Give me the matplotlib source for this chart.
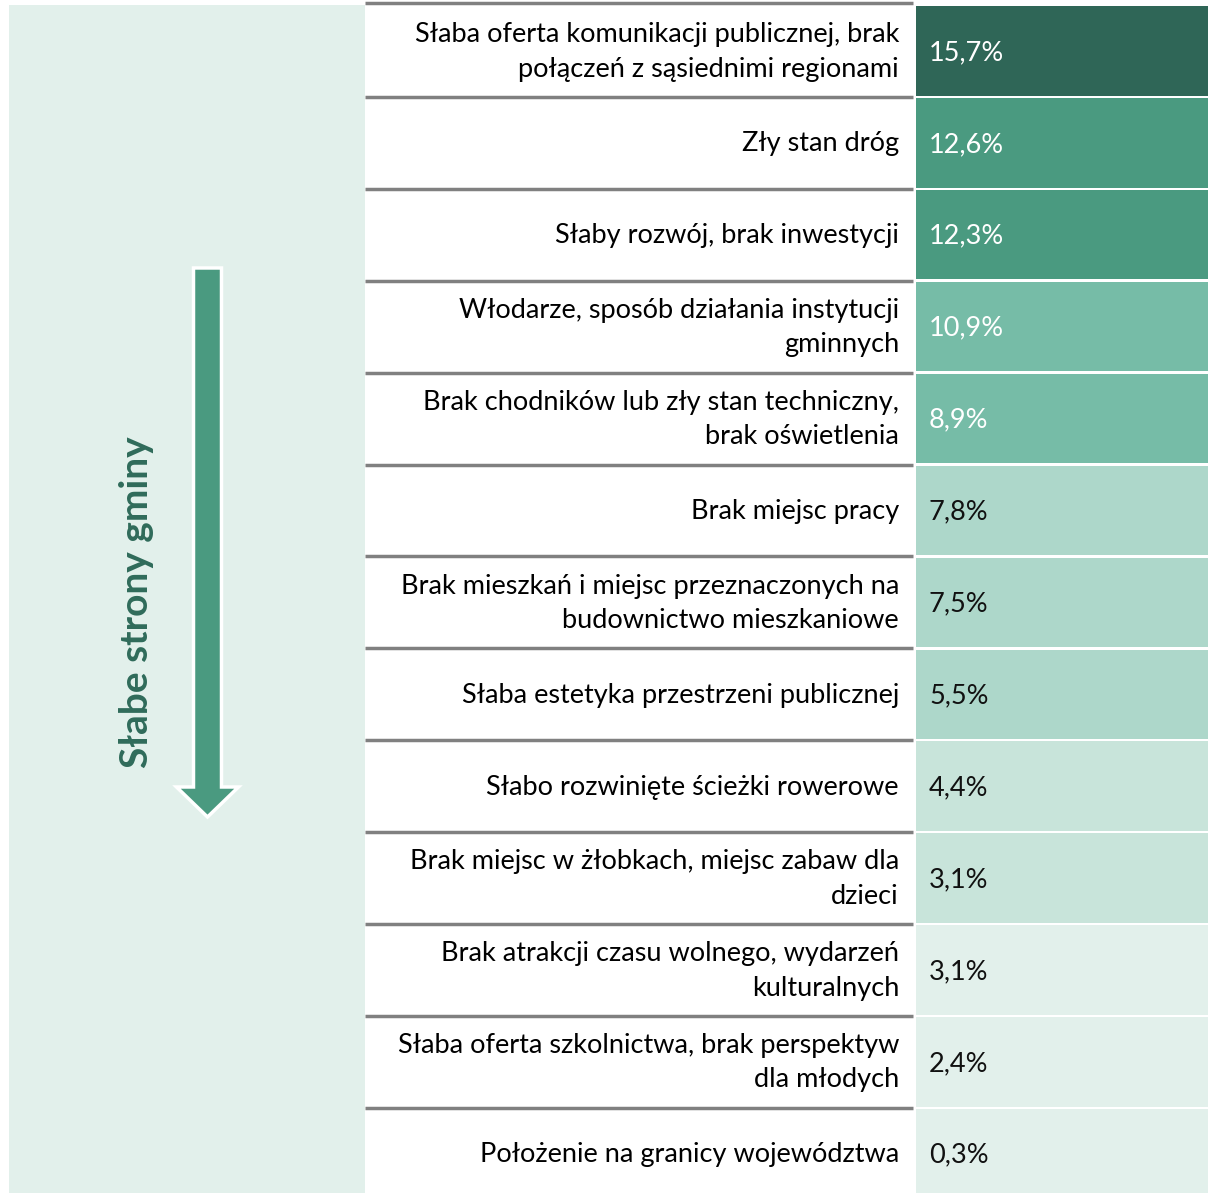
import matplotlib
matplotlib.use("Agg")
import matplotlib.pyplot as plt
from matplotlib.patches import FancyArrow, Rectangle

labels = [
    "Słaba oferta komunikacji publicznej, brak\npołączeń z sąsiednimi regionami",
    "Zły stan dróg",
    "Słaby rozwój, brak inwestycji",
    "Włodarze, sposób działania instytucji\ngminnych",
    "Brak chodników lub zły stan techniczny,\nbrak oświetlenia",
    "Brak miejsc pracy",
    "Brak mieszkań i miejsc przeznaczonych na\nbudownictwo mieszkaniowe",
    "Słaba estetyka przestrzeni publicznej",
    "Słabo rozwinięte ścieżki rowerowe",
    "Brak miejsc w żłobkach, miejsc zabaw dla\ndzieci",
    "Brak atrakcji czasu wolnego, wydarzeń\nkulturalnych",
    "Słaba oferta szkolnictwa, brak perspektyw\ndla młodych",
    "Położenie na granicy województwa",
]
values = [15.7, 12.6, 12.3, 10.9, 8.9, 7.8, 7.5, 5.5, 4.4, 3.1, 3.1, 2.4, 0.3]
cell_colors = ["#2F6657", "#4A9A80", "#4A9A80", "#76BCA7", "#76BCA7",
               "#ADD7CA", "#ADD7CA", "#ADD7CA", "#C8E4DA", "#C8E4DA",
               "#E2F0EB", "#E2F0EB", "#E2F0EB"]
text_colors = ["white"] * 5 + ["#111111"] * 8
side_title = "Słabe strony gminy"

plt.rcParams['font.family'] = ['Lato', 'DejaVu Sans']

W, H = 1208, 1193
fig = plt.figure(figsize=(W / 100, H / 100), dpi=100)
ax = fig.add_axes([0, 0, 1, 1])
ax.set_xlim(0, W)
ax.set_ylim(H, 0)
ax.axis("off")

top = 5
row_h = 91.9
n = len(labels)
centers = [top + row_h * (i + 0.5) for i in range(n)]

# left panel
ax.add_patch(Rectangle((9, top), 356, H - top, facecolor="#E2F0EB", edgecolor="none", zorder=0))

# value cells
ax.barh(centers, [W - 916] * n, left=916, height=row_h - 2.5, color=cell_colors, edgecolor="none", zorder=1)

# separators in label column
seps = [top - 2] + [top + row_h * i for i in range(1, n)]
ax.hlines(seps, 365, 913, colors="#808080", linewidth=2.5, zorder=2)

for c, lab, v, tc in zip(centers, labels, values, text_colors):
    ax.text(899, c + 1, lab, ha="right", va="center", fontsize=19.5, color="#000000",
            linespacing=1.46, zorder=3)
    ax.text(929, c + 1.5, f"{v:.1f}%".replace(".", ","), ha="left", va="center",
            fontsize=19.5, color=tc, zorder=3)

# arrow
ax.add_patch(FancyArrow(207.5, 268, 0, 549, width=28, head_width=62, head_length=30,
                        length_includes_head=True, facecolor="#4A9A80",
                        edgecolor="white", linewidth=2.5, zorder=2))

ax.text(137, 602, side_title, rotation=90, ha="center", va="center", fontsize=28,
        fontweight="bold", color="#2F6B5A", zorder=3)

fig.savefig("out.png", dpi=100)
